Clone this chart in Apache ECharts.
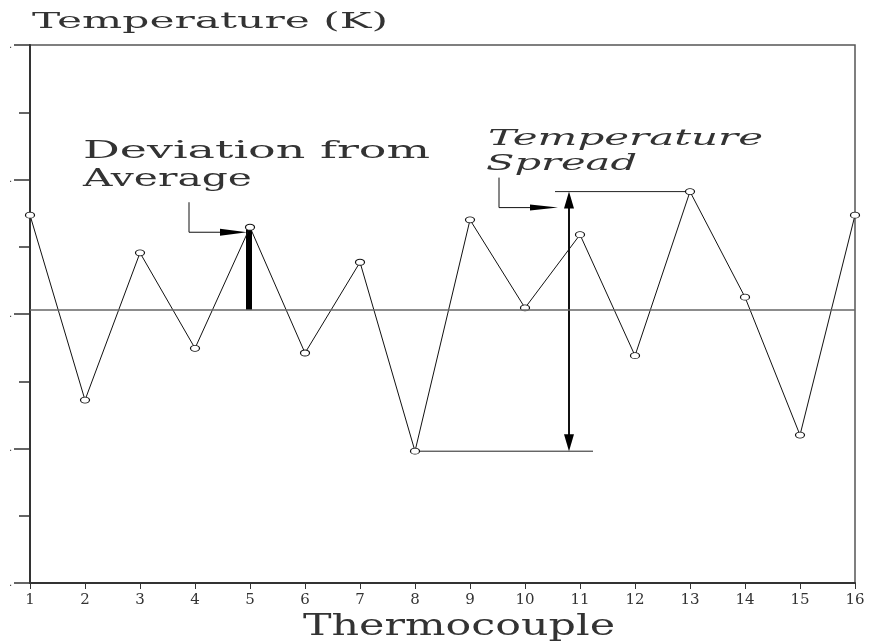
<!DOCTYPE html>
<html>
<head>
<meta charset="utf-8">
<script src="https://cdn.jsdelivr.net/npm/echarts@6/dist/echarts.min.js"></script>
<style>
  html, body { margin: 0; padding: 0; background: #fff; }
  #chart { width: 871px; height: 642px; }
</style>
</head>
<body>
<div id="chart"></div>
<script>
// ---- data ----
const thermocouples = [1, 2, 3, 4, 5, 6, 7, 8, 9, 10, 11, 12, 13, 14, 15, 16];
const temperatures = [5.47, 2.72, 4.91, 3.49, 5.29, 3.42, 4.77, 1.96, 5.40, 4.09, 5.18, 3.38, 5.82, 4.25, 2.20, 5.47];
const averageTemp = 4.06;
const yRange = [0, 8];
const xRange = [1, 16];
const deviationIndex = 4;      // thermocouple 5
const spreadArrowX = 10.8;     // where the spread arrow sits along the x axis

// ---- texts ----
const yTitle = 'Temperature (K)';
const xTitle = 'Thermocouple';
const devLabel = ['Deviation from', 'Average'];
const spreadLabel = ['Temperature', 'Spread'];

const SERIF = '"DejaVu Serif", "Liberation Serif", serif';
const measureCtx = document.createElement('canvas').getContext('2d');
function stretched(text, x, y, size, width, italic) {
  measureCtx.font = (italic ? 'italic ' : '') + size + 'px ' + SERIF;
  const w = measureCtx.measureText(text).width;
  return {
    type: 'text', x: x, y: y, scaleX: width / w, scaleY: 1, silent: true,
    style: {
      text: text, fontSize: size, fontFamily: SERIF, fontStyle: italic ? 'italic' : 'normal',
      fill: '#333', textAlign: 'left', textVerticalAlign: 'middle', verticalAlign: 'middle'
    }
  };
}

const chart = echarts.init(document.getElementById('chart'), null, { renderer: 'canvas' });

let maxI = 0, minI = 0;
temperatures.forEach((v, i) => { if (v > temperatures[maxI]) maxI = i; if (v < temperatures[minI]) minI = i; });

function renderAnnotations(params, api) {
  const avgPt = api.coord([thermocouples[deviationIndex], averageTemp]);
  const devPt = api.coord([thermocouples[deviationIndex], temperatures[deviationIndex]]);
  const maxPt = api.coord([thermocouples[maxI], temperatures[maxI]]);
  const minPt = api.coord([thermocouples[minI], temperatures[minI]]);
  const ax = api.coord([spreadArrowX, 0])[0];
  const thin = { stroke: '#111', lineWidth: 1, fill: null };
  const kids = [];
  // thick deviation bar
  kids.push({ type: 'line', shape: { x1: avgPt[0] - 1, y1: avgPt[1], x2: devPt[0] - 1, y2: devPt[1] + 2 }, style: { stroke: '#000', lineWidth: 6 } });
  // deviation leader arrow
  const t1 = [devPt[0] - 3, devPt[1] + 5];
  kids.push({ type: 'polyline', shape: { points: [[t1[0] - 58, t1[1] - 30], [t1[0] - 58, t1[1]], [t1[0] - 27, t1[1]]] }, style: thin });
  kids.push({ type: 'polygon', shape: { points: [[t1[0] - 27, t1[1] - 3.5], [t1[0], t1[1]], [t1[0] - 27, t1[1] + 3.5]] }, style: { fill: '#000' } });
  // spread reference lines
  kids.push({ type: 'line', shape: { x1: ax - 14, y1: maxPt[1], x2: maxPt[0], y2: maxPt[1] }, style: { stroke: '#222', lineWidth: 1 } });
  kids.push({ type: 'line', shape: { x1: minPt[0], y1: minPt[1], x2: ax + 24, y2: minPt[1] }, style: { stroke: '#222', lineWidth: 1 } });
  // double arrow
  kids.push({ type: 'line', shape: { x1: ax, y1: maxPt[1] + 16, x2: ax, y2: minPt[1] - 16 }, style: { stroke: '#111', lineWidth: 2 } });
  kids.push({ type: 'polygon', shape: { points: [[ax, maxPt[1]], [ax - 5, maxPt[1] + 17], [ax + 5, maxPt[1] + 17]] }, style: { fill: '#000' } });
  kids.push({ type: 'polygon', shape: { points: [[ax, minPt[1]], [ax - 5, minPt[1] - 17], [ax + 5, minPt[1] - 17]] }, style: { fill: '#000' } });
  // spread leader arrow
  const t2 = [ax - 11, maxPt[1] + 16];
  kids.push({ type: 'polyline', shape: { points: [[t2[0] - 59, t2[1] - 30], [t2[0] - 59, t2[1]], [t2[0] - 28, t2[1]]] }, style: thin });
  kids.push({ type: 'polygon', shape: { points: [[t2[0] - 28, t2[1] - 3], [t2[0], t2[1]], [t2[0] - 28, t2[1] + 3]] }, style: { fill: '#000' } });
  return { type: 'group', children: kids };
}

const option = {
  animation: false,
  backgroundColor: '#fff',
  grid: { left: 30, right: 16, top: 45, bottom: 59, show: true, borderColor: '#555', borderWidth: 1.5, backgroundColor: 'transparent' },
  xAxis: {
    type: 'value', min: xRange[0], max: xRange[1], interval: 1,
    axisLine: { show: true, lineStyle: { color: '#333', width: 2 } },
    axisTick: { show: true, inside: false, length: 6, lineStyle: { color: '#333', width: 1 } },
    axisLabel: { show: true, margin: 10, fontSize: 15, fontFamily: SERIF, color: '#333', formatter: v => String(v) },
    splitLine: { show: false }
  },
  yAxis: {
    type: 'value', min: yRange[0], max: yRange[1], interval: 2,
    axisLine: { show: true, lineStyle: { color: '#333', width: 2 } },
    axisTick: { show: true, inside: false, length: 16, lineStyle: { color: '#333', width: 1.5 } },
    minorTick: { show: true, splitNumber: 2, length: 11, lineStyle: { color: '#333', width: 1.5 } },
    axisLabel: { show: true, margin: 18, fontSize: 10, color: '#333', formatter: () => '.' },
    splitLine: { show: false }, minorSplitLine: { show: false }
  },
  graphic: [
    stretched(yTitle, 32, 22, 22, 356, false),
    stretched(xTitle, 303, 627, 30, 312, false),
    stretched(devLabel[0], 83, 152, 24, 347, false),
    stretched(devLabel[1], 83, 180, 24, 169, false),
    stretched(spreadLabel[0], 488, 139, 22, 275, true),
    stretched(spreadLabel[1], 486, 164, 22, 151, true)
  ],
  series: [
    {
      type: 'custom', coordinateSystem: 'cartesian2d', z: 1, silent: true,
      data: [[spreadArrowX, averageTemp]],
      renderItem: renderAnnotations
    },
    {
      type: 'line', z: 3,
      data: thermocouples.map((t, i) => [t, temperatures[i]]),
      symbol: 'circle', symbolSize: [9, 6],
      itemStyle: { color: '#fff', borderColor: '#111', borderWidth: 1 },
      lineStyle: { color: '#111', width: 1 },
      markLine: {
        silent: true, symbol: 'none', label: { show: false },
        lineStyle: { color: '#666', width: 1.5, type: 'solid' },
        data: [{ yAxis: averageTemp }]
      }
    }
  ]
};
chart.setOption(option);
</script>
</body>
</html>
